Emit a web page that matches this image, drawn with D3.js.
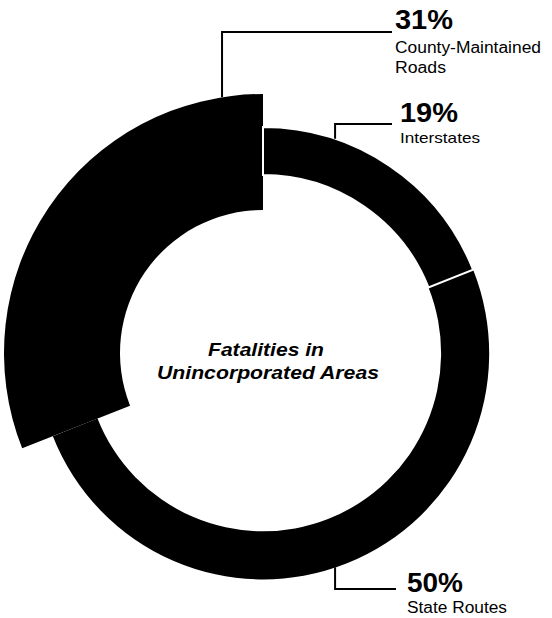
<!DOCTYPE html>
<html>
<head>
<meta charset="utf-8">
<script src="https://cdn.jsdelivr.net/npm/d3@7"></script>
<style>
  html, body { margin: 0; padding: 0; background: #fff; }
  svg { display: block; }
  text { font-family: "Liberation Sans", Arial, Helvetica, sans-serif; fill: #000; }
</style>
</head>
<body>
<svg id="chart" width="552" height="618"></svg>
<script>
// Road types, in drawing order clockwise from 12 o'clock
const categories = ["Interstates", "State Routes", "County-Maintained Roads"];
const shares = [19, 50, 31];
const percentLabels = ["19%", "50%", "31%"];
const nameLines = [["Interstates"], ["State Routes"], ["County-Maintained", "Roads"]];
const centerTitle = ["Fatalities in", "Unincorporated Areas"];

const svg = d3.select("#chart");
const cx = 263, cy = 353;

// Standard ring and the emphasised (wider) ring for county roads
const ringArc = d3.arc().innerRadius(178).outerRadius(226);
const wideArc = d3.arc().innerRadius(143).outerRadius(259);
const isWide = i => i === 2;

const pie = d3.pie().sort(null).value(d => d).startAngle(0).endAngle(2 * Math.PI);
const slices = pie(shares).map((s, i) => ({ ...s, name: categories[i], i }));

const g = svg.append("g").attr("transform", `translate(${cx},${cy})`);

// Draw the wide slice first so the separator strokes sit on top of it
const order = [2, 1, 0];
g.selectAll("path.slice")
  .data(order.map(i => slices[i]))
  .join("path")
  .attr("class", "slice")
  .attr("d", d => (isWide(d.i) ? wideArc : ringArc)(d))
  .attr("fill", "#000")
  .attr("stroke", d => d.i === 0 ? "#fff" : "none")
  .attr("stroke-width", 2)
  .attr("stroke-linejoin", "miter");

// Leader lines: leave the slice edge at a given angle, then run right to the label
const deg = Math.PI / 180;
const leaderSpec = [
  { angle: 18.6 * deg, elbowY: 124, endX: 392 },
  { angle: 161.4 * deg, elbowY: 589, endX: 396 },
  { angle: -9.1 * deg, elbowY: 32, endX: 392 }
];
const leaders = g.append("g");
leaderSpec.forEach((L, i) => {
  const r = isWide(i) ? wideArc.outerRadius()() : ringArc.outerRadius()();
  const [px, py] = d3.pointRadial(L.angle, r);
  const p = d3.path();
  p.moveTo(px, py);
  p.lineTo(px, L.elbowY - cy);
  p.lineTo(L.endX - cx, L.elbowY - cy);
  leaders.append("path")
    .attr("d", p.toString())
    .attr("fill", "none")
    .attr("stroke", "#000")
    .attr("stroke-width", 2);
});

// Labels: percentage in bold, road type beneath
const labelSpec = [
  { x: 400, pctY: 122, pctW: 58, lineY: [143], lineW: [80], size: 15 },
  { x: 407, pctY: 592, pctW: 56, lineY: [613], lineW: [100], size: 16 },
  { x: 395, pctY: 29, pctW: 58, lineY: [53, 73], lineW: [146, 51], size: 16 }
];
labelSpec.forEach((L, i) => {
  svg.append("text")
    .attr("x", L.x).attr("y", L.pctY)
    .attr("font-size", 27).attr("font-weight", "bold")
    .attr("textLength", L.pctW).attr("lengthAdjust", "spacingAndGlyphs")
    .text(percentLabels[i]);
  nameLines[i].forEach((line, j) => {
    svg.append("text")
      .attr("x", L.x).attr("y", L.lineY[j])
      .attr("font-size", L.size)
      .attr("textLength", L.lineW[j]).attr("lengthAdjust", "spacingAndGlyphs")
      .text(line);
  });
});

// Centre title
const titleY = [356, 379];
const titleW = [116, 222];
const titleX = [266, 268];
centerTitle.forEach((line, j) => {
  svg.append("text")
    .attr("x", titleX[j]).attr("y", titleY[j])
    .attr("text-anchor", "middle")
    .attr("font-size", 18).attr("font-weight", "bold").attr("font-style", "italic")
    .attr("textLength", titleW[j]).attr("lengthAdjust", "spacingAndGlyphs")
    .text(line);
});
</script>
</body>
</html>
